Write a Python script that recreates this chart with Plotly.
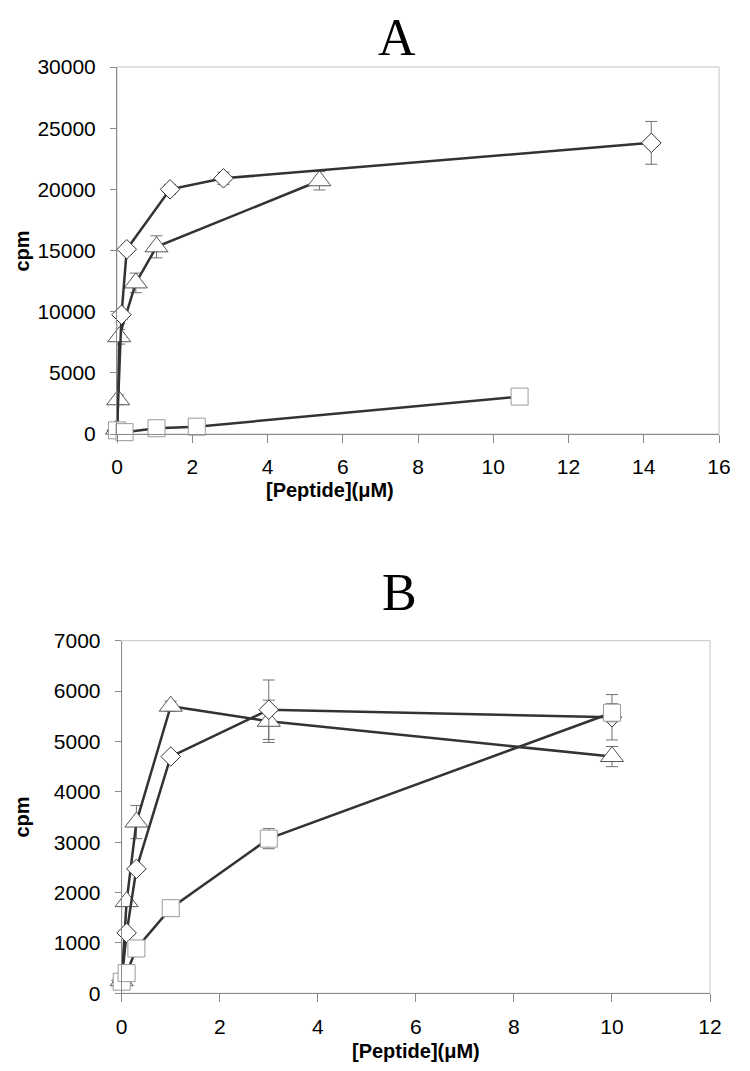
import plotly.graph_objects as go

# ---------------- Panel A data ----------------
dia_x_A = [0, 0.12, 0.26, 1.41, 2.83, 14.2]
dia_y_A = [300, 9750, 15100, 20000, 20900, 23800]
dia_err_A = [None, 400, 300, 400, 500, 1750]

tri_x_A = [0, 0.03, 0.06, 0.5, 1.05, 5.38]
tri_y_A = [400, 2800, 7950, 12350, 15300, 20700]
tri_err_A = [None, 400, 600, 800, 900, 750]

sq_x_A = [0, 0.2, 1.05, 2.12, 10.7]
sq_y_A = [300, 150, 470, 600, 3060]

# ---------------- Panel B data ----------------
x_B = [0, 0.1, 0.3, 1, 3, 10]
tri_y_B = [250, 1820, 3400, 5700, 5400, 4700]
tri_err_B = [None, None, 330, 100, 420, 200]
dia_y_B = [250, 1200, 2470, 4700, 5630, 5480]
dia_err_B = [None, None, None, None, 590, 450]
sq_y_B = [230, 400, 890, 1690, 3070, 5570]
sq_err_B = [None, None, None, None, 200, 180]

xticks_A = [0, 2, 4, 6, 8, 10, 12, 14, 16]
yticks_A = [0, 5000, 10000, 15000, 20000, 25000, 30000]
xticks_B = [0, 2, 4, 6, 8, 10, 12]
yticks_B = [0, 1000, 2000, 3000, 4000, 5000, 6000, 7000]

# page has an 8px body margin, so the figure is sized to fit the window
OFF = 8
W, H = 750 - OFF, 1071 - OFF
LINE = "#333333"
ERR = "#707070"


def py(p):
    return 1 - (p - OFF) / H


def px(p):
    return (p - OFF) / W


fig = go.Figure()


def add_series(x, y, err, symbol, size, mcol, xa, ya):
    eb = dict(type="data", array=err, visible=True, color=ERR, thickness=1, width=6) if err else None
    fig.add_trace(go.Scatter(
        x=x, y=y, mode="lines+markers", xaxis=xa, yaxis=ya,
        line=dict(color=LINE, width=2.5),
        marker=dict(symbol=symbol, size=size, color="white", line=dict(color=mcol, width=1)),
        error_y=eb, cliponaxis=False, showlegend=False,
    ))


# Panel A
add_series(tri_x_A, tri_y_A, tri_err_A, "triangle-up", 20, "#555555", "x", "y")
add_series(dia_x_A, dia_y_A, dia_err_A, "diamond", 15, "#333333", "x", "y")
add_series(sq_x_A, sq_y_A, None, "square", 17, "#9a9a9a", "x", "y")
# Panel B
add_series(x_B, tri_y_B, tri_err_B, "triangle-up", 20, "#555555", "x2", "y2")
add_series(x_B, dia_y_B, dia_err_B, "diamond", 15, "#333333", "x2", "y2")
add_series(x_B, sq_y_B, sq_err_B, "square", 17, "#9a9a9a", "x2", "y2")

tickfont = dict(family="Liberation Sans, Arial", size=21, color="black")
axcommon = dict(showgrid=False, zeroline=False, showline=True, linecolor="#8a8a8a", linewidth=1,
                ticks="outside", tickcolor="#8a8a8a", tickfont=tickfont, automargin=False)

A_l, A_r, A_t, A_b = 117, 719, 67, 434
B_l, B_r, B_t, B_b = 121.7, 710, 640.7, 993.3

fig.update_layout(
    width=W, height=H, margin=dict(l=0, r=0, t=0, b=0),
    plot_bgcolor="white", paper_bgcolor="white",
    xaxis=dict(domain=[px(A_l), px(A_r)], range=[0, 16], tickvals=xticks_A,
               ticktext=[str(v) for v in xticks_A], anchor="y",
               ticklen=8, ticklabelstandoff=6, **axcommon),
    yaxis=dict(domain=[py(A_b), py(A_t)], range=[0, 30000], tickvals=yticks_A,
               ticktext=[str(v) for v in yticks_A], anchor="x",
               ticklen=6, ticklabelstandoff=10, **axcommon),
    xaxis2=dict(domain=[px(B_l), px(B_r)], range=[0, 12], tickvals=xticks_B,
                ticktext=[str(v) for v in xticks_B], anchor="y2",
                ticklen=8, ticklabelstandoff=6, **axcommon),
    yaxis2=dict(domain=[py(B_b), py(B_t)], range=[0, 7000], tickvals=yticks_B,
                ticktext=[str(v) for v in yticks_B], anchor="x2",
                ticklen=6, ticklabelstandoff=10, **axcommon),
)

# light frames (top/right borders)
for xr, yr in [("x domain", "y domain"), ("x2 domain", "y2 domain")]:
    fig.add_shape(type="rect", xref=xr, yref=yr, x0=0, x1=1, y0=0, y1=1,
                  line=dict(color="#c4c4c4", width=1), layer="below")

serif = dict(family="Liberation Serif, Times New Roman", size=52, color="black")
bold = dict(family="Liberation Sans, Arial", size=20, color="black")

fig.add_annotation(text="A", x=px(397), y=1.0, font=serif, xref="paper", yref="paper",
                   showarrow=False, xanchor="center", yanchor="top", borderpad=0)

ann = [
    dict(text="B", x=px(399), y=py(592), font=serif),
    dict(text="<b>cpm</b>", x=px(21.5), y=py(251), font=bold, textangle=-90),
    dict(text="<b>cpm</b>", x=px(21.5), y=py(817), font=bold, textangle=-90),
    dict(text="<b>[Peptide](μM)</b>", x=px(330), y=py(490), font=bold),
    dict(text="<b>[Peptide](μM)</b>", x=px(416), y=py(1051), font=bold),
]
for a in ann:
    fig.add_annotation(xref="paper", yref="paper", showarrow=False,
                       xanchor="center", yanchor="middle", **a)

fig.write_html("out.html")
